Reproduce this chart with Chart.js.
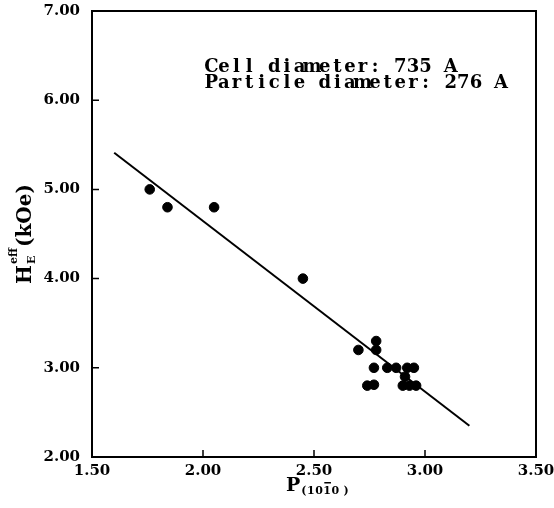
<!DOCTYPE html>
<html lang="en">
<head>
    <meta charset="UTF-8">
    <title>Hk eff vs P</title>
    <script src="https://cdn.jsdelivr.net/npm/chart.js"></script>
    <style>
        html, body { margin: 0; padding: 0; background: #fff; }
        #chart { display: block; }
    </style>
</head>
<body>
    <canvas id="chart" width="554" height="508"></canvas>

    <script>
        // measured points
        const pValues  = [1.76, 1.84, 2.05, 2.45, 2.78, 2.78, 2.70, 2.77, 2.83, 2.87, 2.92, 2.95, 2.91, 2.74, 2.77, 2.90, 2.93, 2.96];
        const hkValues = [5.00, 4.80, 4.80, 4.00, 3.30, 3.20, 3.20, 3.00, 3.00, 3.00, 3.00, 3.00, 2.90, 2.80, 2.81, 2.80, 2.80, 2.80];

        // fitted line end points
        const fitP  = [1.60, 3.20];
        const fitHk = [5.41, 2.35];

        const xTicks = [1.50, 2.00, 2.50, 3.00, 3.50];
        const yTicks = [2.00, 3.00, 4.00, 5.00, 6.00, 7.00];

        const noteLines = ['Cell diameter: 735 A', 'Particle diameter: 276 A'];

        const tickFont = { family: 'DejaVu Serif', size: 15, weight: 'bold' };

        const framePlugin = {
            id: 'frame',
            afterDraw(chart) {
                const ctx = chart.ctx;
                const a = chart.chartArea;
                const xs = chart.scales.x, ys = chart.scales.y;
                ctx.save();
                ctx.strokeStyle = '#000';
                ctx.lineWidth = 2;
                ctx.strokeRect(a.left, a.top, a.right - a.left, a.bottom - a.top);

                // small inward tick marks
                ctx.lineWidth = 1.5;
                ctx.beginPath();
                xTicks.forEach(v => {
                    const px = xs.getPixelForValue(v);
                    ctx.moveTo(px, a.bottom); ctx.lineTo(px, a.bottom - 7);
                });
                yTicks.forEach(v => {
                    const py = ys.getPixelForValue(v);
                    ctx.moveTo(a.left, py); ctx.lineTo(a.left + 7, py);
                });
                ctx.stroke();

                // note, typewriter spacing
                ctx.fillStyle = '#000';
                ctx.font = 'bold 18px "DejaVu Serif"';
                ctx.textAlign = 'center';
                ctx.textBaseline = 'alphabetic';
                const pitch = 12.6;
                noteLines.forEach((line, j) => {
                    for (let i = 0; i < line.length; i++) {
                        ctx.fillText(line[i], 205 + i * pitch + pitch / 2, 72 + j * 16);
                    }
                });

                // x title: P(10-10)
                ctx.textAlign = 'left';
                ctx.font = 'bold 19px "DejaVu Serif"';
                let x0 = 286;
                const by = 491;
                ctx.fillText('P', x0, by);
                x0 += ctx.measureText('P').width + 1;
                ctx.font = 'bold 11px "DejaVu Serif"';
                const sub = ['(', '1', '0', '1', '0', ' )'];
                sub.forEach((s, i) => {
                    const w = ctx.measureText(s).width;
                    ctx.fillText(s, x0, by + 3);
                    if (i === 3) {
                        ctx.fillRect(x0 + 1, by - 9, w - 1, 1.5);
                    }
                    x0 += w + 0.5;
                });

                // y title: H_E^eff (kOe), rotated
                ctx.translate(24, 234);
                ctx.rotate(-Math.PI / 2);
                ctx.font = 'bold 20px "DejaVu Serif"';
                const hW = ctx.measureText('H').width;
                ctx.font = 'bold 11px "DejaVu Serif"';
                const eW = ctx.measureText('E').width;
                const effW = ctx.measureText('eff').width;
                ctx.font = 'bold 20px "DejaVu Serif"';
                const restW = ctx.measureText('(kOe)').width;
                const total = hW + Math.max(eW, effW) + 2 + restW;
                let cx = -total / 2;
                ctx.fillText('H', cx, 7);
                cx += hW + 1;
                ctx.font = 'bold 11px "DejaVu Serif"';
                ctx.fillText('E', cx, 11);
                ctx.fillText('eff', cx, -7);
                cx += Math.max(eW, effW) + 1;
                ctx.font = 'bold 20px "DejaVu Serif"';
                ctx.fillText('(kOe)', cx, 7);
                ctx.restore();
            }
        };

        function noPad(s) {
            s.paddingTop = 0; s.paddingBottom = 0;
            s.paddingLeft = 0; s.paddingRight = 0;
        }

        new Chart(document.getElementById('chart'), {
            type: 'scatter',
            data: {
                datasets: [
                    {
                        data: pValues.map((p, i) => ({ x: p, y: hkValues[i] })),
                        backgroundColor: '#000',
                        borderColor: '#000',
                        pointRadius: 4.8,
                        pointHoverRadius: 4.8
                    },
                    {
                        data: fitP.map((p, i) => ({ x: p, y: fitHk[i] })),
                        showLine: true,
                        borderColor: '#000',
                        borderWidth: 2,
                        pointRadius: 0
                    }
                ]
            },
            plugins: [framePlugin],
            options: {
                responsive: false,
                animation: false,
                events: [],
                layout: { padding: { left: 0, top: 11, right: 18, bottom: 0 } },
                plugins: { legend: { display: false }, tooltip: { enabled: false } },
                scales: {
                    x: {
                        type: 'linear',
                        min: 1.5,
                        max: 3.5,
                        afterBuildTicks: s => { s.ticks = xTicks.map(v => ({ value: v })); },
                        afterFit: s => { s.height = 51; noPad(s); },
                        grid: { display: false, drawTicks: false },
                        border: { display: false },
                        ticks: {
                            color: '#000',
                            font: tickFont,
                            padding: 5,
                            maxRotation: 0,
                            callback: v => Number(v).toFixed(2)
                        }
                    },
                    y: {
                        type: 'linear',
                        min: 2,
                        max: 7,
                        afterBuildTicks: s => { s.ticks = yTicks.map(v => ({ value: v })); },
                        afterFit: s => { s.width = 92; noPad(s); },
                        grid: { display: false, drawTicks: false },
                        border: { display: false },
                        ticks: {
                            color: '#000',
                            font: tickFont,
                            padding: 12,
                            callback: v => Number(v).toFixed(2)
                        }
                    }
                }
            }
        });
    </script>
</body>
</html>
